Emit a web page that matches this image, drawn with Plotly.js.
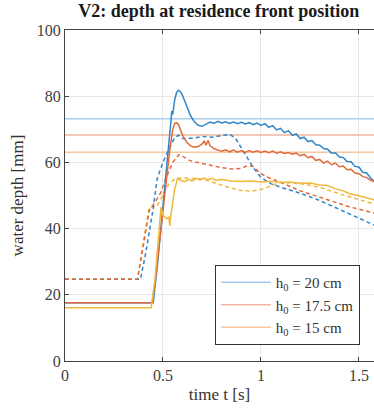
<!DOCTYPE html>
<html>
<head>
<meta charset="utf-8">
<script src="https://cdn.plot.ly/plotly-3.0.1.min.js"></script>
<style>html,body{margin:0;padding:0;background:#fff;}#chart{width:374px;height:411px;}</style>
</head>
<body>
<div id="chart"></div>
<script>
// Reference depths (horizontal lines)
const refNames = ["h<sub>0</sub> = 20 cm", "h<sub>0</sub> = 17.5 cm", "h<sub>0</sub> = 15 cm"];
const refDepths = [73.2, 68.3, 63.1];
const xRange = [0, 1.577];

// h0 = 20 cm, solid
const t20s = [0,0.45,0.47,0.49,0.51,0.53,0.54,0.545,0.55,0.56,0.57,0.58,0.59,0.60,0.62,0.64,0.66,0.68,0.70,0.72,0.74,0.76,0.78,0.80,0.82,0.84,0.86,0.88,0.90,0.92,0.94,0.96,0.98,1.00,1.02,1.04,1.06,1.08,1.10,1.12,1.14,1.16,1.18,1.20,1.22,1.24,1.26,1.28,1.30,1.32,1.34,1.36,1.38,1.40,1.42,1.44,1.46,1.48,1.50,1.52,1.54,1.56,1.58];
const d20s = [17.6,17.6,28,40,52,64,72,75.5,74.5,79,81.2,81.8,81.3,80.2,77,74.2,72.3,71.2,70.9,71.6,72.2,71.8,72.4,71.9,72.3,71.8,72.2,71.7,72.1,71.6,72.0,71.4,71.9,71.2,71.7,70.6,71.1,69.8,70.3,69.0,69.6,68.2,68.6,67.2,67.6,66.3,66.6,65.3,65.2,64.2,64.0,62.8,62.9,61.6,61.5,60.3,60.2,58.8,58.6,57.0,56.8,55.2,54.2];

// h0 = 20 cm, dashed
const t20d = [0,0.385,0.41,0.43,0.45,0.47,0.50,0.53,0.56,0.58,0.60,0.65,0.70,0.75,0.80,0.84,0.87,0.90,0.93,0.96,1.00,1.05,1.10,1.20,1.30,1.37,1.45,1.52,1.58];
const d20d = [24.7,24.7,32,39,46,55,60,64,67.5,68.2,67.2,67.3,67.8,67.6,68.1,68.5,67.3,64.5,61.5,58.5,55.5,53.6,52.5,50.7,48.5,46.6,44.5,42.5,41.0];

// h0 = 17.5 cm, solid
const t175s = [0,0.445,0.46,0.48,0.50,0.52,0.535,0.55,0.56,0.57,0.58,0.59,0.60,0.62,0.64,0.66,0.68,0.70,0.71,0.72,0.73,0.74,0.76,0.78,0.80,0.82,0.84,0.86,0.88,0.90,0.92,0.94,0.96,0.98,1.00,1.02,1.04,1.06,1.08,1.10,1.12,1.14,1.16,1.18,1.20,1.22,1.24,1.26,1.28,1.30,1.32,1.34,1.36,1.38,1.40,1.42,1.44,1.46,1.48,1.50,1.52,1.54,1.56,1.58];
const d175s = [17.6,17.6,24,35,46,56,64,70,71.8,72,71.3,69.8,68.2,66.2,65.0,64.6,64.8,65.6,66.4,65.2,66.6,65.0,64.2,63.7,63.4,63.8,63.2,63.7,63.1,63.6,63.0,63.6,63.1,63.5,63.0,63.4,62.9,63.4,62.8,63.2,62.7,63.0,62.5,62.8,62.0,62.4,61.4,61.8,60.6,60.9,59.8,60.4,59.3,59.8,58.7,58.9,57.8,57.9,56.8,56.6,55.7,55.4,54.6,54.2];

// h0 = 17.5 cm, dashed
const t175d = [0,0.37,0.40,0.43,0.46,0.49,0.51,0.53,0.55,0.58,0.60,0.62,0.65,0.70,0.75,0.80,0.85,0.90,0.93,0.96,0.99,1.03,1.08,1.15,1.20,1.30,1.37,1.45,1.58];
const d175d = [24.7,24.7,35,45.5,48,51,54.5,57,60,62.3,62,61,60.3,59.7,59,58.4,58.0,58.2,59,58.8,57,55.6,54.5,52.6,51.4,49.5,48.2,46.6,44.7];

// h0 = 15 cm, solid
const t15s = [0,0.44,0.46,0.48,0.49,0.50,0.51,0.52,0.53,0.535,0.54,0.55,0.56,0.575,0.59,0.61,0.63,0.65,0.67,0.69,0.71,0.73,0.75,0.77,0.80,0.85,0.90,0.95,1.00,1.05,1.10,1.15,1.20,1.25,1.30,1.34,1.38,1.42,1.45,1.48,1.52,1.55,1.58];
const d15s = [16.1,16.1,25,38,46.5,44,43.4,43.0,43.6,40.8,44,48,52,55.2,54.6,54.2,54.8,54.4,55.2,54.7,55.3,54.8,55.2,54.6,54.8,54.4,54.2,54.4,54.1,54.3,53.9,54.1,53.7,53.8,53.2,53.0,52.0,51.4,50.6,50.2,49.6,49.2,48.7];

// h0 = 15 cm, dashed
const t15d = [0,0.37,0.40,0.43,0.47,0.50,0.53,0.56,0.60,0.70,0.75,0.80,0.85,0.90,0.95,1.00,1.05,1.10,1.20,1.30,1.40,1.50,1.58];
const d15d = [24.7,24.7,36,46.5,46.8,50,53.5,55,55.3,55,54,53,52.2,51.5,51.3,51.8,53,54,53.6,52.5,50.5,48.8,47.4];

const C = {
  blue: "#2f86c8", orange: "#e06a3c", yellow: "#f0b83c",
  blueL: "#a9cdec", orangeL: "#f2b49c", yellowL: "#f5c9a0"
};
const dash = "4px,3px";
const FONT = "Liberation Serif, Times New Roman, serif";

const traces = [];
const refColors = [C.blueL, C.orangeL, C.yellowL];
refDepths.forEach((d, i) => {
  traces.push({x: xRange, y: [d, d], mode: "lines", name: refNames[i],
    line: {color: refColors[i], width: 1.5}, hoverinfo: "skip"});
});
function ser(x, y, color, isDash) {
  return {x: x, y: y, mode: "lines", showlegend: false,
    line: {color: color, width: 1.5, dash: isDash ? dash : "solid"}};
}
traces.push(ser(t15d, d15d, C.yellow, true));
traces.push(ser(t20d, d20d, C.blue, true));
traces.push(ser(t175d, d175d, C.orange, true));
traces.push(ser(t20s, d20s, C.blue, false));
traces.push(ser(t175s, d175s, C.orange, false));
traces.push(ser(t15s, d15s, C.yellow, false));

const layout = {
  width: 374, height: 411,
  margin: {l: 65, r: 0, t: 30, b: 50},
  paper_bgcolor: "#fff", plot_bgcolor: "#fff",
  font: {family: FONT, size: 16, color: "#404040"},
  title: {text: "<b>V2: depth at residence front position</b>", x: 0.585, xanchor: "center", y: 0.99, yanchor: "top",
    font: {family: FONT, size: 18, color: "#1a1a1a"}},
  xaxis: {range: xRange, tickvals: [0, 0.5, 1, 1.5], ticktext: ["0", "0.5", "1", "1.5"],
    showgrid: true, gridcolor: "#e8e8e8", zeroline: false,
    showline: true, linecolor: "#444", linewidth: 1, mirror: "ticks",
    ticks: "inside", ticklen: 4, tickcolor: "#444",
    title: {text: "time t [s]", standoff: 4, font: {family: FONT, size: 17, color: "#333"}}},
  yaxis: {range: [0, 100], tickvals: [0, 20, 40, 60, 80, 100],
    showgrid: true, gridcolor: "#e8e8e8", zeroline: false,
    showline: true, linecolor: "#444", linewidth: 1, mirror: false,
    ticks: "inside", ticklen: 4, tickcolor: "#444",
    title: {text: "water depth [mm]", standoff: 8, font: {family: FONT, size: 17, color: "#333"}}},
  legend: {x: 0.485, y: 0.29, xanchor: "left", yanchor: "top",
    bgcolor: "#fff", bordercolor: "#333", borderwidth: 1, itemwidth: 50,
    font: {family: FONT, size: 15, color: "#333"}, tracegroupgap: 0},
  showlegend: true
};
Plotly.newPlot("chart", traces, layout, {staticPlot: true, displayModeBar: false});
</script>
</body>
</html>
